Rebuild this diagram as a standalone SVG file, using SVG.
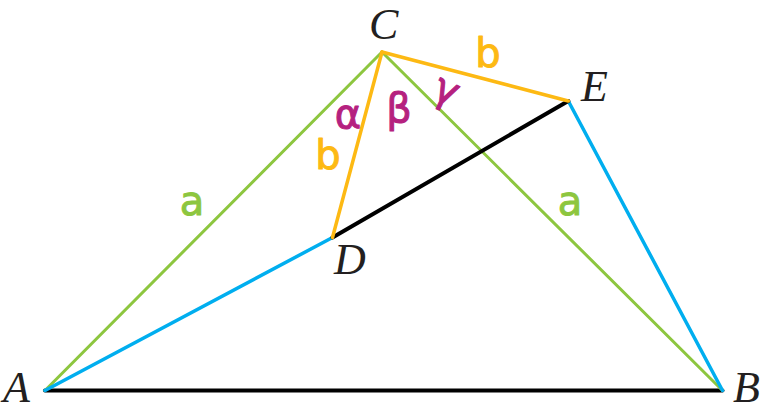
<svg xmlns="http://www.w3.org/2000/svg" width="765" height="412" viewBox="0 0 765 412">
<style>
.g{stroke:#8DC63F;stroke-width:3;fill:none;stroke-linecap:round}
.y{stroke:#FDB913;stroke-width:3.5;fill:none;stroke-linecap:round}
.bl{stroke:#00AEEF;stroke-width:3.5;fill:none;stroke-linecap:round}
.k{stroke:#000;stroke-width:4;fill:none;stroke-linecap:round}
.pt{font-family:"Liberation Serif",serif;font-style:italic;font-size:44px;fill:#231F20}
.hw{font-family:"DejaVu Sans",sans-serif;font-size:40px;text-anchor:middle;stroke-width:1;stroke-linejoin:round}
.gt{fill:#8DC63F;stroke:#8DC63F}
.yt{fill:#FDB913;stroke:#FDB913}
.mt{fill:#B5217F;stroke:#B5217F}
</style>
<rect width="765" height="412" fill="#fff"/>
<g id="segments">
<line class="k" x1="45" y1="390.5" x2="722.5" y2="390.5"/>
<line class="g" x1="45" y1="390.5" x2="382" y2="52"/>
<line class="g" x1="382" y1="52" x2="722.5" y2="390.5"/>
<line class="bl" x1="45" y1="390.5" x2="332.5" y2="237.5"/>
<line class="bl" x1="568.3" y1="101" x2="722.5" y2="390.5"/>
<line class="k" x1="332.5" y1="237.5" x2="568.3" y2="101"/>
<line class="y" x1="382" y1="52" x2="332.5" y2="237.5"/>
<line class="y" x1="382" y1="52" x2="568.3" y2="101"/>
</g>
<g id="points">
<text class="pt" x="3" y="402">A</text>
<text class="pt" x="733" y="402">B</text>
<text class="pt" x="369" y="39">C</text>
<text class="pt" x="334" y="274">D</text>
<text class="pt" x="581" y="101">E</text>
</g>
<g id="labels">
<text class="hw gt" x="192" y="215">a</text>
<text class="hw gt" x="570" y="215">a</text>
<text class="hw yt" x="488" y="67">b</text>
<text class="hw yt" x="328" y="169">b</text>
<text class="hw mt" x="348" y="128">α</text>
<text class="hw mt" x="399" y="122">β</text>
<text class="hw mt" x="446" y="103" transform="rotate(25 446 92)">γ</text>
</g>
</svg>
